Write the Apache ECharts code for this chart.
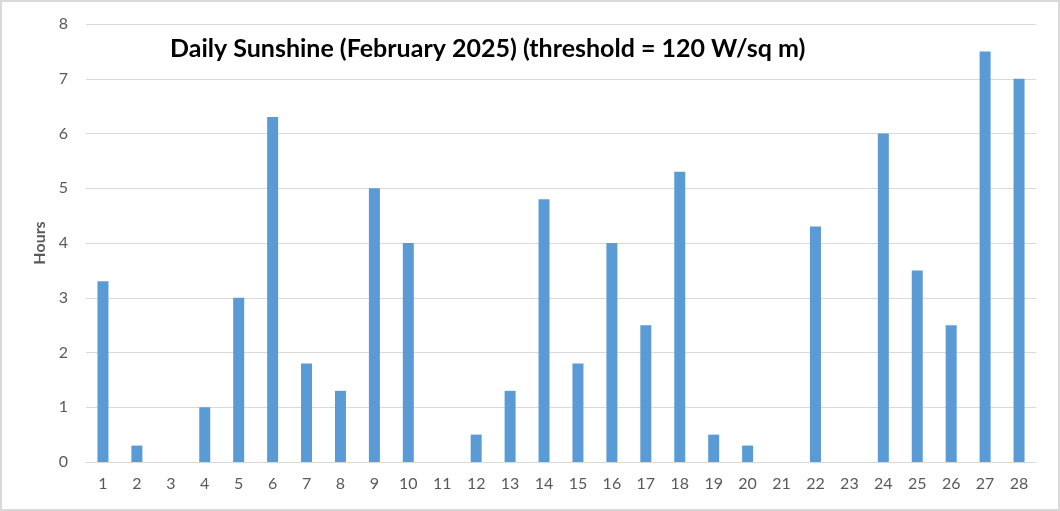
<!DOCTYPE html>
<html><head><meta charset="utf-8">
<script src="https://cdn.jsdelivr.net/npm/echarts@6/dist/echarts.min.js"></script>
<style>
html,body{margin:0;padding:0;background:#fff;}
#c{width:1060px;height:511px;box-sizing:border-box;border:2px solid #d9d9d9;}
</style></head><body>
<div id="c"></div>
<script>
const days = ['1','2','3','4','5','6','7','8','9','10','11','12','13','14','15','16','17','18','19','20','21','22','23','24','25','26','27','28'];
const hours = [3.3,0.3,0,1,3,6.3,1.8,1.3,5,4,0,0.5,1.3,4.8,1.8,4,2.5,5.3,0.5,0.3,0,4.3,0,6,3.5,2.5,7.5,7];
const titleText = 'Daily Sunshine (February 2025) (threshold = 120 W/sq m)';
const yName = 'Hours';

const chart = echarts.init(document.getElementById('c'), null, {renderer:'canvas'});
chart.setOption({
  animation:false,
  title:{text:titleText,left:163,top:29,textStyle:{fontFamily:'Lato',fontWeight:'bold',fontSize:25,color:'#000'}},
  grid:{left:84,right:22,top:22,bottom:47},
  xAxis:{type:'category',data:days,
    axisLine:{lineStyle:{color:'#d9d9d9',width:1}},axisTick:{show:false},
    axisLabel:{color:'#595959',fontFamily:'Lato',fontSize:16,margin:14}},
  yAxis:{type:'value',min:0,max:8,interval:1,name:yName,nameLocation:'middle',nameGap:38,
    nameTextStyle:{fontFamily:'Lato',fontWeight:'bold',fontSize:16,color:'#595959'},
    axisLine:{show:false},axisTick:{show:false},
    splitLine:{lineStyle:{color:'#d9d9d9',width:1}},
    axisLabel:{color:'#595959',fontFamily:'Lato',fontSize:16,margin:18}},
  series:[{type:'bar',data:hours,barWidth:11,itemStyle:{color:'#5b9bd5'}}]
});
</script>
</body></html>
